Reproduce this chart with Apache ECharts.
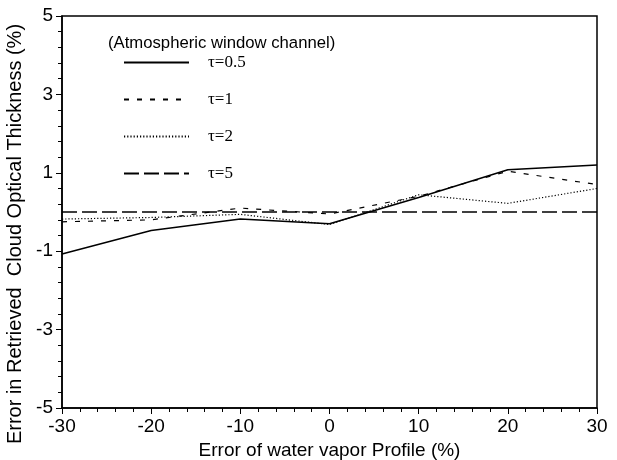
<!DOCTYPE html>
<html>
<head>
<meta charset="utf-8">
<script src="https://cdn.jsdelivr.net/npm/echarts@6/dist/echarts.min.js"></script>
<style>
  html, body { margin: 0; padding: 0; background: #fff; }
  #chart { width: 617px; height: 460px; }
</style>
</head>
<body>
<div id="chart"></div>
<script>
// error of water vapor profile (%)
const xValues = [-30, -20, -10, 0, 10, 20, 30]
// retrieval error (%) per optical thickness
const tau05 = [-1.07, -0.47, -0.18, -0.3, 0.37, 1.08, 1.2]
const tau1 = [-0.25, -0.2, 0.1, -0.05, 0.4, 1.04, 0.7]
const tau2 = [-0.18, -0.14, -0.06, -0.32, 0.44, 0.22, 0.6]
const tau5 = [0, 0, 0, 0, 0, 0, 0]
const seriesNames = ['τ=0.5', 'τ=1', 'τ=2', 'τ=5']

const pairs = (ys) => xValues.map((x, i) => [x, ys[i]])
const sans = 'Liberation Sans'

const lineSeries = (name, ys, width, type) => ({
  name: name,
  type: 'line',
  data: pairs(ys),
  symbol: 'none',
  silent: true,
  itemStyle: { color: '#000' },
  lineStyle: { color: '#000', width: width, type: type }
})

const axisCommon = {
  type: 'value',
  nameLocation: 'middle',
  axisLine: { show: true, onZero: false, lineStyle: { color: '#000', width: 1.5 } },
  axisTick: { show: true, inside: false, length: 6, lineStyle: { color: '#000' } },
  minorTick: { show: true, splitNumber: 5, length: 4, lineStyle: { color: '#000' } },
  axisLabel: { fontFamily: sans, fontSize: 19, color: '#000', margin: 9 },
  splitLine: { show: false }
}

const myChart = echarts.init(document.getElementById('chart'), null, { renderer: 'canvas' })
myChart.setOption({
  animation: false,
  backgroundColor: '#fff',
  title: {
    text: '(Atmospheric window channel)',
    left: 103,
    top: 30,
    textStyle: { fontFamily: sans, fontSize: 16.7, fontWeight: 'normal', color: '#000' }
  },
  legend: {
    data: seriesNames,
    orient: 'vertical',
    left: 123,
    top: 54,
    padding: 0,
    itemWidth: 65,
    itemHeight: 14,
    itemGap: 20,
    itemStyle: { opacity: 0 },
    textStyle: {
      fontFamily: 'Liberation Serif',
      fontSize: 17,
      color: '#000',
      padding: [0, 0, 0, 14]
    }
  },
  grid: {
    left: 62,
    right: 20,
    top: 16,
    bottom: 52,
    outerBoundsMode: 'none',
    show: true,
    borderColor: '#000',
    borderWidth: 1.5,
    backgroundColor: 'transparent'
  },
  xAxis: Object.assign({}, axisCommon, {
    min: -30,
    max: 30,
    interval: 10,
    name: 'Error of water vapor Profile (%)',
    nameGap: 26,
    nameTextStyle: { fontFamily: sans, fontSize: 19, color: '#000' }
  }),
  yAxis: Object.assign({}, axisCommon, {
    min: -5,
    max: 5,
    interval: 2,
    name: 'Error in Retrieved  Cloud Optical Thickness (%)',
    nameGap: 32,
    nameTextStyle: { fontFamily: sans, fontSize: 20, color: '#000', padding: [0, 44, 0, 0] }
  }),
  series: [
    lineSeries(seriesNames[0], tau05, 1.5, 'solid'),
    lineSeries(seriesNames[1], tau1, 1.2, [5, 8]),
    lineSeries(seriesNames[2], tau2, 1.2, [1.2, 2]),
    lineSeries(seriesNames[3], tau5, 1.3, [15, 5])
  ]
})
</script>
</body>
</html>
